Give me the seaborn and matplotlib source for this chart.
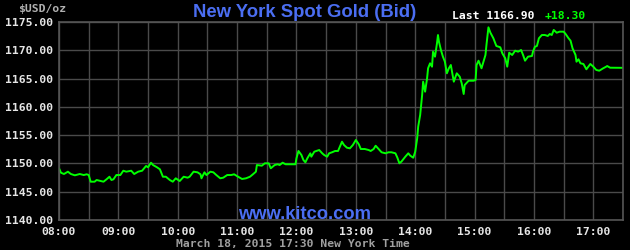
import matplotlib
matplotlib.use("Agg")
import matplotlib.pyplot as plt
import seaborn as sns
import pandas as pd
import numpy as np

# minutes after 08:00 (New York time)
minutes = [0, 2, 5, 9, 12, 16, 21, 25, 28, 30,
           32, 36, 38, 41, 45, 48, 51, 53, 55, 58,
           62, 65, 68, 73, 76, 80, 84, 88, 90, 93,
           95, 99, 102, 105, 108, 112, 115, 118, 122, 126,
           130, 132, 136, 140, 143, 144, 147, 149, 153, 156,
           159, 163, 166, 170, 174, 177, 181, 185, 189, 193,
           196, 199, 200, 205, 208, 212, 214, 218, 221, 223,
           226, 229, 234, 239, 240, 242, 245, 247, 249, 251,
           254, 255, 258, 260, 263, 266, 268, 271, 273, 276,
           279, 282, 286, 288, 291, 294, 297, 300, 303, 305,
           309, 313, 315, 318, 320, 323, 326, 330, 333, 336,
           340, 342, 344, 346, 350, 353, 355, 358, 360, 362,
           363, 365, 367, 368, 370, 372, 373, 375, 377, 378,
           380, 382, 383, 384, 386, 388, 390, 392, 394, 396,
           399, 402, 405, 407, 409, 410, 414, 419, 421, 422,
           424, 427, 429, 431, 432, 434, 436, 439, 442, 446,
           448, 451, 453, 455, 458, 461, 464, 467, 469, 471,
           474, 478, 479, 481, 483, 485, 488, 491, 494, 496,
           498, 500, 503, 506, 510, 512, 515, 517, 519, 522,
           523, 525, 527, 530, 533, 535, 537, 540, 543, 546,
           550, 553, 554, 557, 570]

bid = [1149.14, 1148.36, 1148.13, 1148.54, 1148.13, 1147.90, 1148.13, 1147.95, 1148.08, 1147.95,
       1146.77, 1146.77, 1147.07, 1146.95, 1146.77, 1147.19, 1147.65, 1147.07, 1147.19, 1147.95,
       1147.95, 1148.71, 1148.54, 1148.71, 1148.13, 1148.54, 1148.71, 1149.55, 1149.32, 1150.13,
       1149.72, 1149.32, 1148.96, 1147.65, 1147.65, 1147.07, 1146.77, 1147.37, 1146.89, 1147.65,
       1147.48, 1147.65, 1148.54, 1148.43, 1148.08, 1147.37, 1148.43, 1147.95, 1148.54, 1148.43,
       1147.95, 1147.37, 1147.48, 1147.95, 1147.95, 1148.08, 1147.65, 1147.25, 1147.37, 1147.65,
       1148.08, 1148.54, 1149.72, 1149.60, 1150.02, 1150.02, 1149.14, 1149.72, 1149.85, 1149.72,
       1150.13, 1149.85, 1149.85, 1149.85, 1150.91, 1152.20, 1151.49, 1150.61, 1150.20, 1150.91,
       1151.79, 1151.19, 1152.07, 1152.20, 1152.37, 1151.79, 1151.49, 1151.19, 1151.79, 1151.97,
       1152.20, 1152.20, 1153.84, 1153.26, 1152.78, 1152.67, 1153.26, 1154.14, 1153.38, 1152.55,
       1152.55, 1152.37, 1152.20, 1152.55, 1153.13, 1152.55, 1151.97, 1151.79, 1151.97, 1151.97,
       1151.79, 1151.01, 1150.02, 1150.31, 1151.19, 1151.79, 1151.37, 1151.01, 1152.07, 1154.44,
       1156.49, 1158.56, 1162.10, 1164.45, 1162.68, 1165.05, 1166.82, 1167.70, 1167.10, 1169.75,
       1168.87, 1171.23, 1172.70, 1171.52, 1170.05, 1168.87, 1167.98, 1165.93, 1166.82, 1167.40,
       1164.45, 1165.93, 1165.33, 1164.16, 1162.27, 1163.86, 1164.62, 1164.62, 1164.75, 1167.40,
       1168.16, 1166.82, 1167.98, 1169.17, 1170.93, 1174.06, 1173.11, 1172.12, 1170.76, 1170.53,
       1169.47, 1168.58, 1167.10, 1169.57, 1169.17, 1169.93, 1169.75, 1170.05, 1169.17, 1168.16,
       1168.87, 1168.99, 1169.75, 1170.63, 1170.76, 1172.12, 1172.70, 1172.70, 1172.53, 1172.88,
       1172.70, 1173.59, 1173.11, 1173.29, 1173.29, 1172.88, 1172.12, 1171.69, 1170.35, 1169.17,
       1167.98, 1168.41, 1167.70, 1167.58, 1166.64, 1167.10, 1167.58, 1167.10, 1166.52, 1166.39,
       1166.82, 1167.10, 1167.22, 1166.92, 1166.90]

hour_ticks = [8, 9, 10, 11, 12, 13, 14, 15, 16, 17]
hour_labels = ["08:00", "09:00", "10:00", "11:00", "12:00", "13:00", "14:00", "15:00", "16:00", "17:00"]
price_ticks = [1140, 1145, 1150, 1155, 1160, 1165, 1170, 1175]

title = "New York Spot Gold (Bid)"
unit_label = "$USD/oz"
last_price = "Last 1166.90"
change = "+18.30"
footer = "March 18, 2015 17:30 New York Time"
site = "www.kitco.com"

df = pd.DataFrame({"hour": [8 + m / 60 for m in minutes], "bid": bid})

sns.set_style("dark", {"axes.facecolor": "black", "figure.facecolor": "black",
                       "axes.edgecolor": "#555555", "grid.color": "#4a4a4a"})

W, H = 630, 250
fig = plt.figure(figsize=(W / 100, H / 100), dpi=100)
fig.patch.set_facecolor("black")
ax = fig.add_axes([59 / W, 1 - 220 / H, (623 - 59) / W, (220 - 22) / H])
ax.set_facecolor("black")

sns.lineplot(data=df, x="hour", y="bid", ax=ax, color="#00ff00", linewidth=1.4)

ax.set_xlim(8, 17.5)
ax.set_ylim(1140, 1175)
half = [8 + 0.5 * i for i in range(20)]
ax.set_xticks(half)
ax.set_xticklabels([hour_labels[hour_ticks.index(int(h))] if h == int(h) else "" for h in half])
ax.set_yticks(price_ticks)
ax.set_yticklabels([f"{v:.2f}" for v in price_ticks])
ax.grid(True, color="#4a4a4a", linewidth=1.0)
ax.set_axisbelow(True)
for s in ax.spines.values():
    s.set_color("#555555")
    s.set_linewidth(1.2)
ax.set_xlabel("")
ax.set_ylabel("")

mono = {"family": "DejaVu Sans Mono", "weight": "bold", "size": 8.2}
ax.tick_params(axis="both", length=0, colors="#e6e6e6")
ax.tick_params(axis="y", pad=4)
ax.tick_params(axis="x", pad=5)
for lab in ax.get_xticklabels() + ax.get_yticklabels():
    lab.set_fontfamily(mono["family"])
    lab.set_fontweight(mono["weight"])
    lab.set_fontsize(mono["size"])
    lab.set_color("#e6e6e6")

blue = "#4b6ef2"
fig.text(305 / W, 1 - 16.7 / H, title, ha="center", va="baseline",
         family="Liberation Sans", weight="bold", size=13.3, color=blue)
fig.text(18 / W, 1 - 12.5 / H, unit_label, ha="left", va="baseline", color="#b0b0b0", **mono)
fig.text(451.5 / W, 1 - 19 / H, last_price, ha="left", va="baseline", color="white", **mono)
fig.text(545 / W, 1 - 19 / H, change, ha="left", va="baseline", color="#00ff00", **mono)
fig.text(176.5 / W, 1 - 246.5 / H, footer, ha="left", va="baseline", color="#a0a0a0", **mono)
fig.text(304.5 / W, 1 - 219 / H, site, ha="center", va="baseline",
         family="Liberation Sans", weight="bold", size=13.2, color=blue)

fig.savefig("out.png", dpi=100, facecolor="black")
